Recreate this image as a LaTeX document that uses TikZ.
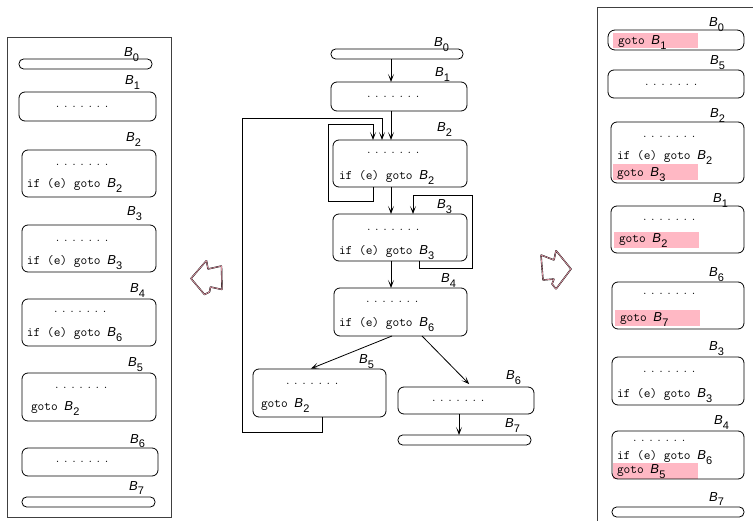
\documentclass[tikz,border=0pt]{standalone}
\usepackage{fontspec}
\setsansfont{Liberation Sans}
\usetikzlibrary{arrows.meta}
\definecolor{hlpink}{RGB}{255,184,196}
\definecolor{edgepink}{RGB}{226,150,165}
% block name B_i in sans italic with an upright subscript
\newcommand\bsub[1]{{\sffamily\itshape B\kern0.2pt\raisebox{-0.38em}{\fontsize{11}{11}\selectfont\upshape #1}}}
\newcommand\dotrow{{\rmfamily .\kern4.6pt.\kern4.6pt.\kern4.6pt.\kern4.6pt.\kern4.6pt.\kern4.6pt.}}
\newcommand\code[1]{\texttt{#1}}

\begin{document}
\begin{tikzpicture}[x=1pt,y=-1pt,
  every node/.style={font=\fontsize{13}{15}\selectfont, inner sep=0pt, outer sep=0pt},
  blk/.style={draw, line width=0.8pt, rounded corners=6pt, inner sep=0pt},
  bar/.style={draw, line width=0.8pt, rounded corners=4.6pt, minimum height=10pt, inner sep=0pt},
  wbar/.style={draw, line width=0.8pt, rounded corners=7pt, minimum height=20pt, inner sep=0pt},
  txt/.style={anchor=base west},
  frame/.style={draw=black!75, line width=0.9pt},
  flow/.style={line width=0.8pt, -{Stealth[length=8pt,width=6pt,inset=4.5pt]}},
  fat/.style={draw=black, line width=0.35pt, double=edgepink, double distance=0.7pt, line join=bevel},
  hl/.style={fill=hlpink, draw=none}]
\useasboundingbox (0,0) rectangle (753,521);

% ---------------- left panel: original block order ----------------
\draw[frame] (7,37) rectangle (171,517);
\node[bar, minimum width=133pt] (lb0) at (85.5,64) {};
\node[blk, minimum width=137pt, minimum height=29pt] (lb1) at (87.5,106.5) {};
\node[blk, minimum width=134pt, minimum height=47pt] (lb2) at (89,173.5) {};
\node[blk, minimum width=134pt, minimum height=47pt] (lb3) at (89,248.5) {};
\node[blk, minimum width=134pt, minimum height=47pt] (lb4) at (89,322.5) {};
\node[blk, minimum width=134pt, minimum height=48pt] (lb5) at (89,397) {};
\node[blk, minimum width=136pt, minimum height=28pt] (lb6) at (90,462) {};
\node[bar, minimum width=133pt] (lb7) at (88.5,502) {};

\node[txt] (lb0n) at (124,57) {\bsub{0}};
\node[txt] (lb1n) at (125,85) {\bsub{1}};
\node[txt] (lb2n) at (126,142) {\bsub{2}};
\node[txt] (lb3n) at (127,216) {\bsub{3}};
\node[txt] (lb4n) at (130,293) {\bsub{4}};
\node[txt] (lb5n) at (128,367) {\bsub{5}};
\node[txt] (lb6n) at (130,443) {\bsub{6}};
\node[txt] (lb7n) at (129,490) {\bsub{7}};

\node[txt] (lb1d) at (56,108) {\dotrow};
\node[txt] (lb2d) at (56,166) {\dotrow};
\node[txt] (lb2c) at (27,188) {\code{if (e) goto\ }\bsub{2}};
\node[txt] (lb3d) at (56,242) {\dotrow};
\node[txt] (lb3c) at (27,265) {\code{if (e) goto\ }\bsub{3}};
\node[txt] (lb4d) at (54,313) {\dotrow};
\node[txt] (lb4c) at (27,337) {\code{if (e) goto\ }\bsub{6}};
\node[txt] (lb5d) at (55,389) {\dotrow};
\node[txt] (lb5c) at (31,411) {\code{goto\ }\bsub{2}};
\node[txt] (lb6d) at (56,463) {\dotrow};

% ---------------- middle: control flow graph ----------------
\node[bar, minimum width=132pt] (c0) at (397,54) {};
\node[blk, minimum width=136pt, minimum height=29pt] (c1) at (399,96.5) {};
\node[blk, minimum width=134pt, minimum height=47pt] (c2) at (400,163.5) {};
\node[blk, minimum width=134pt, minimum height=47pt] (c3) at (400,237.5) {};
\node[blk, minimum width=133pt, minimum height=48pt] (c4) at (400.5,312) {};
\node[blk, minimum width=133pt, minimum height=48pt] (c5) at (319.5,393) {};
\node[blk, minimum width=136pt, minimum height=27pt] (c6) at (466,400.5) {};
\node[bar, minimum width=133pt] (c7) at (464.5,440) {};

\node[txt] (c0n) at (434,47) {\bsub{0}};
\node[txt] (c1n) at (435,77) {\bsub{1}};
\node[txt] (c2n) at (437,132) {\bsub{2}};
\node[txt] (c3n) at (437,209) {\bsub{3}};
\node[txt] (c4n) at (441,283) {\bsub{4}};
\node[txt] (c5n) at (359,364) {\bsub{5}};
\node[txt] (c6n) at (506,380) {\bsub{6}};
\node[txt] (c7n) at (505,428) {\bsub{7}};

\node[txt] (c1d) at (367,98) {\dotrow};
\node[txt] (c2d) at (367,154) {\dotrow};
\node[txt] (c2c) at (339,180) {\code{if (e) goto\ }\bsub{2}};
\node[txt] (c3d) at (367,231) {\dotrow};
\node[txt] (c3c) at (339,255) {\code{if (e) goto\ }\bsub{3}};
\node[txt] (c4d) at (366,303) {\dotrow};
\node[txt] (c4c) at (339,327) {\code{if (e) goto\ }\bsub{6}};
\node[txt] (c5d) at (286,385) {\dotrow};
\node[txt] (c5c) at (261,408) {\code{goto\ }\bsub{2}};
\node[txt] (c6d) at (432,402) {\dotrow};

% x positions of the vertical edges
\coordinate (xa) at (373,0);
\coordinate (xb) at (382,0);
\coordinate (xc) at (391,0);
\coordinate (xd) at (322,0);
\coordinate (xe) at (419,0);
\coordinate (xf) at (413,0);
\coordinate (xg) at (392,0);
\coordinate (xh) at (310,0);
\coordinate (xi) at (422,0);
\coordinate (xj) at (472,0);
\coordinate (xk) at (459,0);
% corners of the back edges
\coordinate (ua) at (328,201);
\coordinate (ub) at (328,124);
\coordinate (va) at (242,432);
\coordinate (vb) at (242,118);
\coordinate (wa) at (472,268);
\coordinate (wb) at (472,195);

\draw[flow] (c0.south -| xc) -- (c1.north -| xc);
\draw[flow] (c1.south -| xc) -- (c2.north -| xc);
\draw[flow] (c2.south -| xc) -- (c3.north -| xc);
\draw[flow] (c3.south -| xc) -- (c4.north -| xc);
\draw[flow] (c2.south -| xa) |- (ua) -- (ub) -| (c2.north -| xa);
\draw[flow] (c5.south -| xd) |- (va) -- (vb) -| (c2.north -| xb);
\draw[flow] (c3.south -| xe) |- (wa) -- (wb) -| (c3.north -| xf);
\draw[flow, shorten >=1pt] (c4.south -| xg) -- (c5.north -| xh);
\draw[flow, shorten >=4pt] (c4.south -| xi) -- (c6.north -| xj);
\draw[flow] (c6.south -| xk) -- (c7.north -| xk);

% ---------------- transformation arrows ----------------
\draw[fat] (191,278.5) -- (206.5,260.5) -- (208,269) -- (221.5,266) -- (222,289.5)
  -- (210.5,287) -- (209.5,292) -- (204.5,294.5) -- cycle;
\draw[fat] (571,269) -- (556,250.5) -- (554,260) -- (541,255) -- (543,280)
  -- (554,279) -- (552,284) -- (556,289) -- cycle;

% ---------------- right panel: reordered blocks ----------------
\draw[frame] (753,7) -| (597,521);

\fill[hl] (613,33) rectangle (698,48);
\fill[hl] (613,164) rectangle (698,180);
\fill[hl] (614,232) rectangle (699,248);
\fill[hl] (615,310) rectangle (700,326);
\fill[hl] (613,463) rectangle (698,479);

\node[wbar, minimum width=136pt] (rb0) at (676,40) {};
\node[blk, minimum width=136pt, minimum height=28pt] (rb5) at (676,84) {};
\node[blk, minimum width=133pt, minimum height=61pt] (rb2) at (677.5,152.5) {};
\node[blk, minimum width=133pt, minimum height=47pt] (rb1) at (677.5,229.5) {};
\node[blk, minimum width=132pt, minimum height=47pt] (rb6) at (678,305.5) {};
\node[blk, minimum width=132pt, minimum height=48pt] (rb3) at (678,381) {};
\node[blk, minimum width=132pt, minimum height=48pt] (rb4) at (678,455) {};
\node[bar, minimum width=132pt] (rb7) at (678,512) {};

\node[txt] (rb0n) at (709,27) {\bsub{0}};
\node[txt] (rb5n) at (710,65) {\bsub{5}};
\node[txt] (rb2n) at (710,118) {\bsub{2}};
\node[txt] (rb1n) at (713,203) {\bsub{1}};
\node[txt] (rb6n) at (709,277) {\bsub{6}};
\node[txt] (rb3n) at (709,351) {\bsub{3}};
\node[txt] (rb4n) at (714,425) {\bsub{4}};
\node[txt] (rb7n) at (709,501) {\bsub{7}};

\node[txt] (rb0c) at (618,45) {\code{goto\ }\bsub{1}};
\node[txt] (rb5d) at (645,86) {\dotrow};
\node[txt] (rb2d) at (643,138) {\dotrow};
\node[txt] (rb2c) at (617,160) {\code{if (e) goto\ }\bsub{2}};
\node[txt] (rb2g) at (617,177) {\code{goto\ }\bsub{3}};
\node[txt] (rb1d) at (643,221) {\dotrow};
\node[txt] (rb1g) at (619,243) {\code{goto\ }\bsub{2}};
\node[txt] (rb6d) at (643,295) {\dotrow};
\node[txt] (rb6g) at (620,322) {\code{goto\ }\bsub{7}};
\node[txt] (rb3d) at (643,373) {\dotrow};
\node[txt] (rb3c) at (617,398) {\code{if (e) goto\ }\bsub{3}};
\node[txt] (rb4d) at (633,442) {\dotrow};
\node[txt] (rb4c) at (617,460) {\code{if (e) goto\ }\bsub{6}};
\node[txt] (rb4g) at (617,474) {\code{goto\ }\bsub{5}};
\end{tikzpicture}
\end{document}
